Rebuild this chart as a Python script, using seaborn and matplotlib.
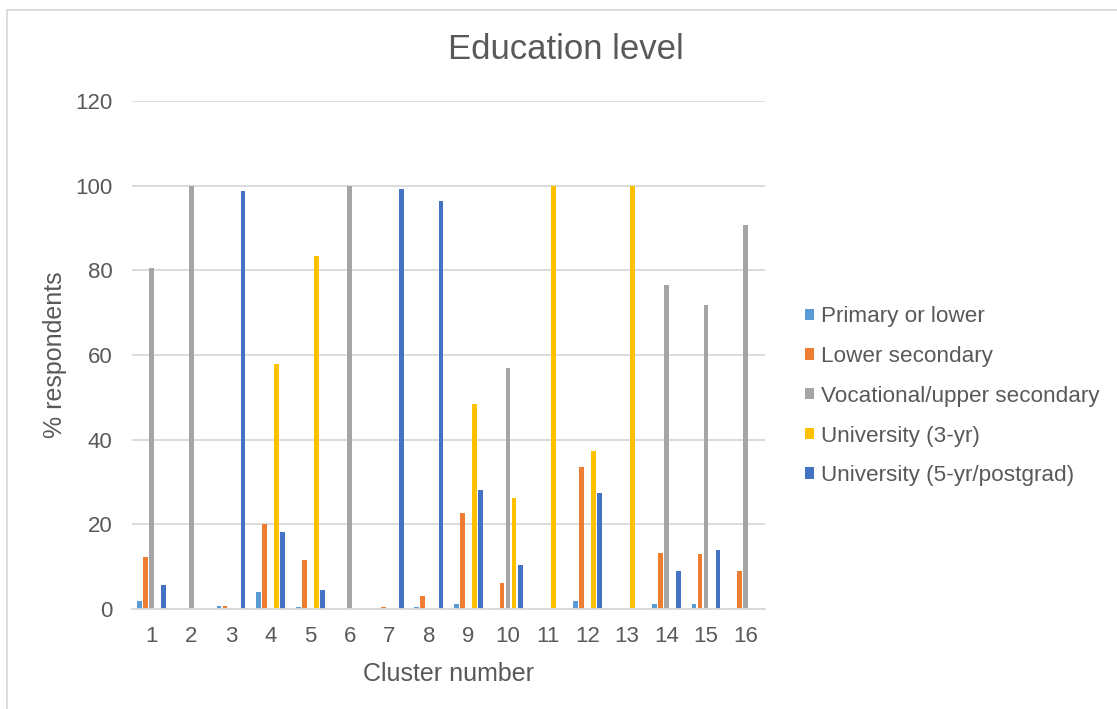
import matplotlib
matplotlib.use("Agg")
import matplotlib.pyplot as plt
from matplotlib.patches import Rectangle
import pandas as pd
import seaborn as sns

clusters = [str(i) for i in range(1, 17)]
levels = [
    "Primary or lower",
    "Lower secondary",
    "Vocational/upper secondary",
    "University (3-yr)",
    "University (5-yr/postgrad)",
]
primary = [1.8, 0, 0.7, 4.0, 0.5, 0, 0, 0.5, 1.2, 0, 0, 1.8, 0, 1.3, 1.1, 0.3]
lower_secondary = [12.3, 0, 0.7, 20.0, 11.6, 0, 0.5, 3.0, 22.6, 6.2, 0, 33.5, 0, 13.3, 12.9, 9.0]
vocational = [80.5, 100, 0, 0, 0, 100, 0, 0, 0, 57.0, 0, 0, 0, 76.5, 71.8, 90.8]
university_3yr = [0, 0, 0, 57.8, 83.5, 0, 0, 0, 48.4, 26.2, 100, 37.3, 100, 0, 0, 0]
university_5yr = [5.6, 0, 98.7, 18.2, 4.5, 0, 99.3, 96.5, 28.0, 10.5, 0, 27.5, 0, 9.0, 14.0, 0]
colors = ["#5B9BD5", "#ED7D31", "#A5A5A5", "#FFC000", "#4472C4"]

series = [primary, lower_secondary, vocational, university_3yr, university_5yr]
df = pd.DataFrame(
    [(c, lvl, v) for lvl, vals in zip(levels, series) for c, v in zip(clusters, vals)],
    columns=["cluster", "level", "pct"],
)

sns.set_theme(style="white")
plt.rcParams["font.family"] = ["Liberation Sans", "DejaVu Sans"]
text_color = "#595959"
grid_color = "#D9D9D9"

fig = plt.figure(figsize=(11.17, 7.09), dpi=100)
ax = fig.add_axes([0.1182, 0.1410, 0.5670, 0.7165])

sns.barplot(
    data=df, x="cluster", y="pct", hue="level", order=clusters, hue_order=levels,
    palette=colors, width=0.76, gap=0.2, saturation=1, ax=ax, legend=False,
    edgecolor="none",
)

ax.set_ylim(0, 120)
ax.set_yticks(range(0, 121, 20))
ax.set_xlim(-0.5, len(clusters) - 0.5)
ax.yaxis.grid(True, color=grid_color, linewidth=1.3)
ax.set_axisbelow(True)
for side in ["top", "right", "left"]:
    ax.spines[side].set_visible(False)
ax.spines["bottom"].set_color(grid_color)
ax.spines["bottom"].set_linewidth(1.3)
ax.tick_params(axis="both", length=0, labelsize=16, labelcolor=text_color)
ax.tick_params(axis="y", pad=14)
ax.tick_params(axis="x", pad=12)
ax.set_xlabel("Cluster number", fontsize=18, color=text_color, labelpad=11)
ax.set_ylabel("% respondents", fontsize=18, color=text_color, labelpad=6)

fig.text(0.507, 0.930, "Education level", ha="center", va="center",
         fontsize=25, color=text_color)

handles = [Rectangle((0, 0), 1, 1, facecolor=c, edgecolor="none") for c in colors]
leg = fig.legend(
    handles, levels, loc="center left", bbox_to_anchor=(0.7025, 0.441),
    frameon=False, fontsize=16.2, handlelength=0.4, handleheight=0.4,
    handletextpad=0.3, labelspacing=0.83,
)
for t in leg.get_texts():
    t.set_color(text_color)

# outer chart border
fig.patches.append(Rectangle((7 / 1117, -0.1), 1.2, 1 - 10 / 709 + 0.1,
                             transform=fig.transFigure, fill=False,
                             edgecolor=grid_color, linewidth=1.3))

fig.savefig("out.png", dpi=100, facecolor="white")
